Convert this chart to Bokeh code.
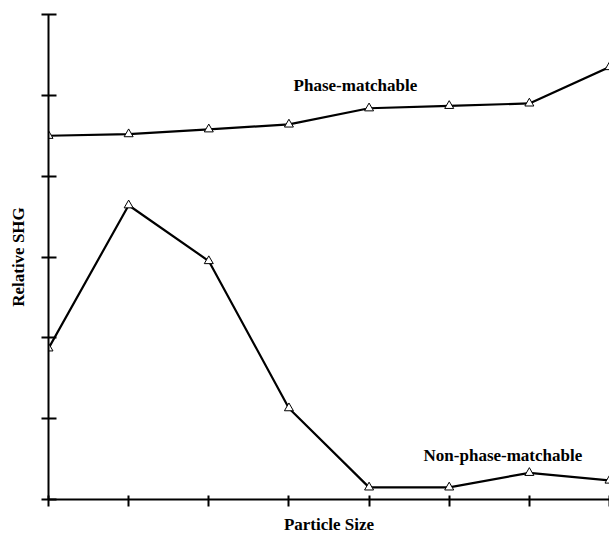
from bokeh.plotting import figure
from bokeh.models import FixedTicker, Range1d, Label, CustomJSTickFormatter
from bokeh.embed import file_html
from bokeh.resources import INLINE

particle_size = [0, 1, 2, 3, 4, 5, 6, 7]
phase_matchable = [4.50, 4.52, 4.58, 4.64, 4.84, 4.87, 4.90, 5.35]
non_phase_matchable = [1.87, 3.64, 2.95, 1.13, 0.15, 0.15, 0.33, 0.235]
x_ticks = [0, 1, 2, 3, 4, 5, 6, 7]
y_ticks = [0, 1, 2, 3, 4, 5, 6]

FONT = "Liberation Serif"

p = figure(width=609, height=536, output_backend="svg", toolbar_location=None,
           x_range=Range1d(0, 7), y_range=Range1d(0, 6),
           min_border_left=48, min_border_right=0, min_border_top=14, min_border_bottom=37)
p.outline_line_color = None
p.background_fill_color = "white"
p.border_fill_color = "white"
p.grid.visible = False

empty = CustomJSTickFormatter(code="return ''")
for ax, ticks in ((p.xaxis, x_ticks), (p.yaxis, y_ticks)):
    ax.ticker = FixedTicker(ticks=ticks)
    ax.formatter = empty
    ax.major_label_text_font_size = "1px"
    ax.major_label_standoff = 0
    ax.minor_tick_line_color = None
    ax.axis_line_width = 2
    ax.major_tick_line_width = 2
    ax.axis_label_text_font = FONT
    ax.axis_label_text_font_style = "bold"
    ax.axis_label_text_font_size = "17px"
    ax.axis_label_text_color = "black"

p.xaxis.axis_label = "Particle Size"
p.xaxis.major_tick_in = 4
p.xaxis.major_tick_out = 7
p.xaxis.axis_label_standoff = 8
p.yaxis.axis_label = "Relative SHG"
p.yaxis.major_tick_in = 8
p.yaxis.major_tick_out = 7
p.yaxis.axis_label_standoff = 14

p.line(particle_size, phase_matchable, line_color="black", line_width=2.2)
p.line(particle_size, non_phase_matchable, line_color="black", line_width=2.2)
p.scatter(particle_size, phase_matchable, marker="triangle", size=9,
          fill_color="white", line_color="black", line_width=1)
p.scatter(particle_size, non_phase_matchable, marker="triangle", size=9,
          fill_color="white", line_color="black", line_width=1)

for txt, lx, ly in (("Phase-matchable", 3.83, 5.12),
                    ("Non-phase-matchable", 5.67, 0.545)):
    p.add_layout(Label(x=lx, y=ly, text=txt, text_font=FONT, text_font_style="bold",
                       text_font_size="17px", text_align="center", text_baseline="middle",
                       text_color="black"))

open("out.html", "w").write(file_html(p, INLINE))
